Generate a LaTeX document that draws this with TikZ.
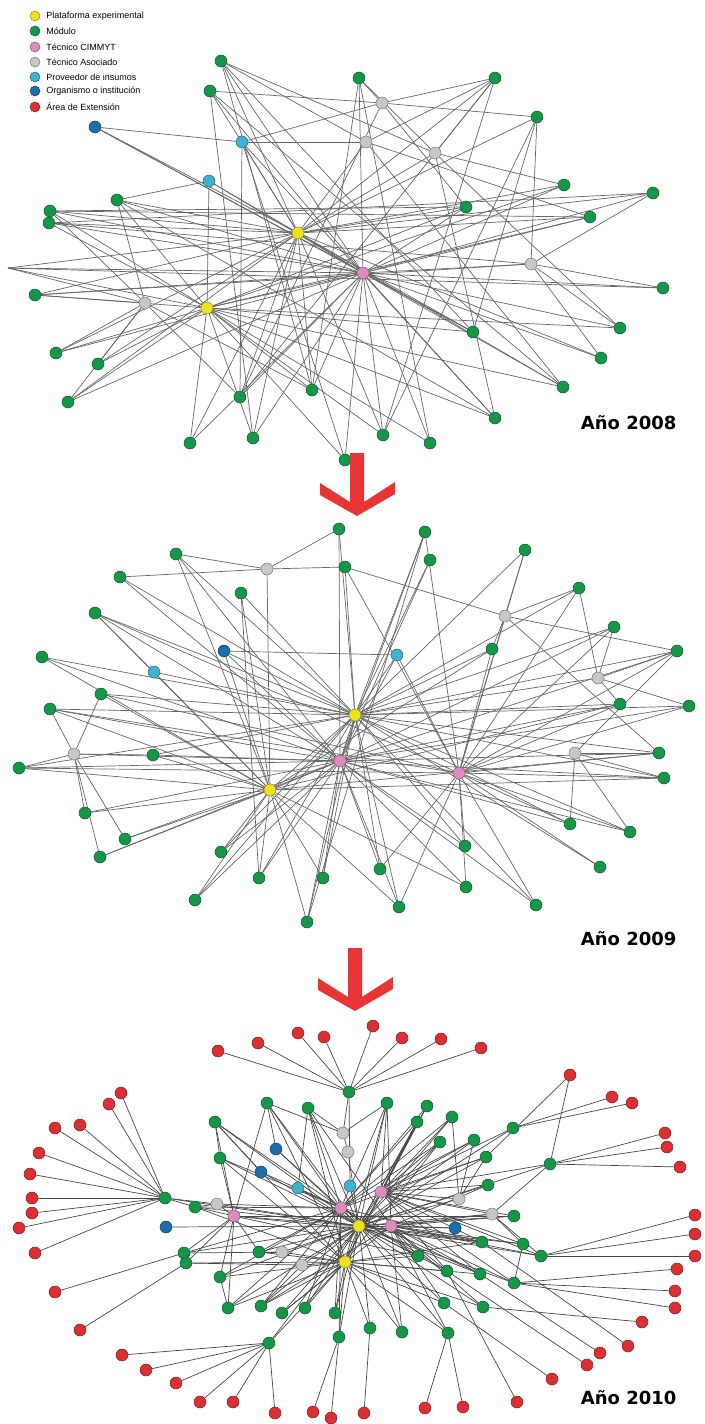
\documentclass[tikz,border=0pt]{standalone}
\usepackage{fontspec}
\setmainfont{Liberation Sans}
\newfontfamily\anyofont{DejaVu Sans}
\usepackage{tikz}
\usetikzlibrary{positioning, backgrounds, calc}
\definecolor{cplat}{RGB}{236,226,30}
\definecolor{cmod}{RGB}{22,150,72}
\definecolor{ccim}{RGB}{222,140,190}
\definecolor{casoc}{RGB}{196,200,198}
\definecolor{cprov}{RGB}{64,178,206}
\definecolor{corg}{RGB}{26,110,170}
\definecolor{cext}{RGB}{218,48,52}
\definecolor{cflecha}{RGB}{232,52,52}

% red chevron arrow, tip hanging from the given coordinate
\newcommand{\flechaabajo}[1]{%
	\fill[cflecha, shift={(#1)}] (-7,0) -- (7,0) -- (7,49) -- (38,29) -- (38,41) -- (0,63)
		-- (-37,42) -- (-37,30) -- (-7,49) -- cycle;}

\begin{document}
\begin{tikzpicture}[x=1pt, y=-1pt,
		nodo/.style={circle, inner sep=0pt, minimum size=12pt, draw=#1!60!black, line width=0.5pt, fill=#1},
		plataforma/.style={nodo=cplat},
		modulo/.style={nodo=cmod},
		cimmyt/.style={nodo=ccim},
		asociado/.style={nodo=casoc},
		proveedor/.style={nodo=cprov},
		organismo/.style={nodo=corg},
		extension/.style={nodo=cext},
		enlace/.style={draw=black!60, line width=0.7pt},
		enlaceb/.style={draw=black!72, line width=0.7pt},
		anio/.style={font=\anyofont\bfseries\fontsize{18}{18}\selectfont, anchor=east},
		leyenda/.style={font=\fontsize{9}{9}\selectfont, anchor=west, inner sep=0pt}
	]
	\useasboundingbox (0,0) rectangle (704,1424);

	% Legend
	\foreach \i/\s/\y/\t in {1/plataforma/16/Plataforma experimental, 2/modulo/31/Módulo,
		3/cimmyt/47/Técnico CIMMYT, 4/asociado/62/Técnico Asociado, 5/proveedor/77/Proveedor de insumos,
		6/organismo/91/Organismo o institución, 7/extension/107/Área de Extensión} {
		\node[\s, minimum size=10pt] (ley\i) at (35,\y) {};
		\node[leyenda, right=6pt of ley\i] (txt\i) {\t};
	}

	% ---------------- Year 2008 ----------------
	\foreach \n/\x/\y in {a1/221/61, a2/359/78, a3/495/78, a4/210/91, a5/537/117, a6/564/185, a7/653/193,
		a8/117/200, a9/466/207, a10/50/211, a11/49/223, a12/590/217, a13/663/288, a14/35/295, a15/473/332,
		a16/620/328, a17/56/353, a18/98/364, a19/601/358, a20/68/402, a21/240/397, a22/312/390, a23/563/387,
		a24/495/418, a25/190/443, a26/253/438, a27/383/435, a28/430/443, a29/345/460}
		\node[modulo] (\n) at (\x,\y) {};
	\foreach \n/\x/\y in {ag1/382/103, ag2/366/142, ag3/435/153, ag4/531/264, ag5/145/303}
		\node[asociado] (\n) at (\x,\y) {};
	\node[proveedor] (ac1) at (242,142) {};
	\node[proveedor] (ac2) at (209,181) {};
	\node[organismo] (ab1) at (95,127) {};
	\node[plataforma] (ay1) at (298,233) {};
	\node[plataforma] (ay2) at (207,308) {};
	\node[cimmyt] (ap1) at (363,273) {};
	\coordinate (aL) at (8,268);

	\begin{scope}[on background layer]
		\foreach \u/\v in {ay1/a1, ay1/a8, ay1/a10, ay1/a11, ay1/aL, ay1/a9, ay1/a12, ay1/a7, ay1/a6, ay1/a21,
			ay1/a22, ay1/a25, ay1/a26, ay1/a18, ay1/a17, ay1/ab1, ay1/ac1, ay1/ag2, ay1/a3, ay1/ag3, ay1/a15,
			ay1/a23, ay1/a19, ay1/a27, ay1/ap1, ay1/a5, ay1/a14, ay1/a20, ay1/a4,
			ap1/a2, ap1/a1, ap1/a4, ap1/a10, ap1/a11, ap1/aL, ap1/a14, ap1/a13, ap1/a16, ap1/a19, ap1/a23,
			ap1/a24, ap1/a27, ap1/a28, ap1/a29, ap1/a15, ap1/a21, ap1/a22, ap1/a26, ap1/ay2, ap1/a7, ap1/a12,
			ap1/a9, ap1/ab1, ap1/ac2, ap1/a8, ap1/a20, ap1/a17, ap1/a25, ap1/a6, ap1/ag4,
			ay2/a10, ay2/a11, ay2/aL, ay2/a14, ay2/a17, ay2/a18, ay2/a20, ay2/a25, ay2/a26, ay2/a22, ay2/a27,
			ay2/a9, ay2/a12, ay2/a6, ay2/ac2, ay2/a8, ay2/a28, ay2/a24, ay2/a15, ay2/a16, ay2/a23, ay2/a29,
			ag5/a14, ag5/a17, ag5/a20, ag5/a8, ag5/a10, ag5/a18, ag5/a21, ag5/a22, ag5/aL,
			ag4/a5, ag4/a7, ag4/a13, ag4/a16, ag4/a19, ag4/a14, ag4/a11,
			a10/a12, a11/a7, aL/a13, a10/a9,
			ag1/a4, ag1/a5, ag1/a3, ag1/ac1, ag1/a9, ag1/a21, ag1/a2,
			ag2/ac1, ag2/a3, ag2/a12, ag2/a23, ag2/a1,
			ag3/a6, ag3/a1, ag3/a2, ag3/a24, ag3/a16, ag3/a3,
			ab1/ac1, ac1/a21, ac1/a29, ac2/a8, ac2/ay1,
			a1/a22, a3/a27, a5/a15, a2/a28, a4/a26, a8/a24, a4/a23,
			a1/a15, a3/a21, a5/a27, a2/a22, ab1/a15, ac1/a24}
			\draw[enlace] (\u) -- (\v);
	\end{scope}

	\node[anio] (anio1) at (680,423) {Año 2008};

	% Arrow 2008 -> 2009
	\coordinate (f1) at (357,453);
	\flechaabajo{f1}

	% ---------------- Year 2009 ----------------
	\foreach \n/\x/\y in {b1/339/529, b2/425/532, b3/525/550, b4/176/554, b5/430/560, b6/345/567, b7/120/577,
		b8/241/593, b9/579/588, b10/95/613, b11/614/627, b12/492/649, b13/677/651, b14/42/657, b15/101/694,
		b16/50/709, b17/620/704, b18/689/706, b19/153/755, b20/659/753, b21/19/768, b22/664/778, b23/85/813,
		b24/570/824, b25/630/832, b26/125/839, b27/100/857, b28/221/852, b29/465/846, b30/380/869,
		b31/259/878, b32/323/878, b33/600/867, b34/466/887, b35/195/900, b36/399/907, b37/536/905, b38/307/922}
		\node[modulo] (\n) at (\x,\y) {};
	\foreach \n/\x/\y in {bg1/267/569, bg2/505/616, bg3/598/678, bg4/74/754, bg5/575/753}
		\node[asociado] (\n) at (\x,\y) {};
	\node[organismo] (bb1) at (224,651) {};
	\node[proveedor] (bc1) at (397,655) {};
	\node[proveedor] (bc2) at (154,672) {};
	\node[plataforma] (by1) at (355,715) {};
	\node[plataforma] (by2) at (270,790) {};
	\node[cimmyt] (bp1) at (340,761) {};
	\node[cimmyt] (bp2) at (459,773) {};

	\begin{scope}[on background layer]
		\foreach \u/\v in {by1/b1, by1/b2, by1/b5, by1/b4, by1/b7, by1/b8, by1/b10, by1/b14, by1/b15, by1/b16,
			by1/b19, by1/b21, by1/bb1, by1/bc2, by1/b11, by1/b13, by1/b17, by1/b18, by1/b20, by1/b22, by1/b12,
			by1/b9, by1/b3, by1/bp1, by1/by2, by1/b24, by1/b25, by1/b29, by1/b30, by1/b31, by1/b32, by1/b33,
			by1/b36, by1/b37, by1/b38, by1/b28, by1/b35, by1/bg3, by1/bc1, by1/b6,
			bp1/b1, bp1/b2, bp1/b5, bp1/b4, bp1/b7, bp1/b10, bp1/b14, bp1/b16, bp1/b21, bp1/b19, bp1/b18,
			bp1/b13, bp1/b17, bp1/b22, bp1/b20, bp1/b11, bp1/b24, bp1/b25, bp1/b26, bp1/b23, bp1/b27, bp1/b28,
			bp1/b29, bp1/b30, bp1/b31, bp1/b32, bp1/b34, bp1/b35, bp1/b36, bp1/b37, bp1/b38, bp1/bg4, bp1/by2,
			bp1/bc1, bp1/bb1,
			bp2/b2, bp2/b3, bp2/b9, bp2/b11, bp2/b12, bp2/b13, bp2/b17, bp2/b18, bp2/b20, bp2/b22, bp2/b24,
			bp2/b25, bp2/b33, bp2/b34, bp2/b36, bp2/b29, bp2/b37, bp2/b16, bp2/b15, bp2/b21, bp2/bc1, bp2/b10,
			bp2/bg2, bp2/b6, bp2/b30,
			by2/b4, by2/b8, by2/b14, by2/b16, by2/b19, by2/b21, by2/b23, by2/b26, by2/b27, by2/b28, by2/b31,
			by2/b32, by2/b35, by2/b36, by2/b38, by2/bc2, by2/bb1, by2/bg1, by2/b10, by2/b15, by2/b17, by2/b22,
			by2/b20, by2/b12, by2/b34,
			bg1/b1, bg1/b4, bg1/b7, bg1/b6,
			bg2/b6, bg2/b3, bg2/b9, bg2/b12, bg2/b20, bg2/b13,
			bg3/b11, bg3/b18, bg3/b17, bg3/b13, bg3/b9,
			bg4/b15, bg4/b16, bg4/b21, bg4/b23, bg4/b26, bg4/b27, bg4/b19,
			bg5/b24, bg5/b25, bg5/b22, bg5/b20, bg5/b13,
			bb1/bc1, b10/bc2, b2/b38, b8/b31}
			\draw[enlace] (\u) -- (\v);
	\end{scope}

	\node[anio] (anio2) at (680,939) {Año 2009};

	% Arrow 2009 -> 2010
	\coordinate (f2) at (355,948);
	\flechaabajo{f2}

	% ---------------- Year 2010 ----------------
	\foreach \n/\x/\y in {c1/349/1092, c2/387/1103, c3/427/1106, c4/267/1103, c5/308/1108, c6/215/1122,
		c7/417/1122, c8/452/1117, c9/513/1128, c10/440/1142, c11/474/1140, c12/486/1157, c13/550/1164,
		c14/220/1158, c15/488/1185, c16/165/1198, c17/195/1207, c18/514/1216, c19/259/1252, c20/184/1253,
		c21/186/1263, c22/482/1242, c23/523/1244, c24/541/1256, c25/418/1256, c26/220/1277, c27/447/1271,
		c28/480/1274, c29/514/1283, c30/228/1308, c31/261/1306, c32/282/1313, c33/305/1308, c34/335/1313,
		c35/444/1303, c36/483/1307, c37/339/1337, c38/370/1328, c39/402/1332, c40/448/1333, c41/269/1343}
		\node[modulo] (\n) at (\x,\y) {};
	\foreach \n/\x/\y in {r1/373/1026, r2/298/1033, r3/324/1037, r4/258/1043, r5/402/1038, r6/441/1039,
		r7/481/1048, r8/218/1051, r9/570/1075, r10/612/1097, r11/632/1103, r12/121/1093, r13/109/1104,
		r14/55/1128, r15/80/1125, r16/665/1133, r17/667/1147, r18/39/1153, r19/680/1167, r20/30/1174,
		r21/32/1198, r22/32/1213, r23/19/1228, r24/695/1215, r25/695/1234, r26/35/1253, r27/695/1256,
		r28/677/1269, r29/675/1291, r30/675/1308, r31/55/1292, r32/642/1322, r33/80/1330, r34/628/1346,
		r35/600/1353, r36/587/1365, r37/122/1355, r38/146/1370, r39/552/1379, r40/176/1383, r41/200/1402,
		r42/233/1402, r43/275/1413, r44/313/1412, r45/331/1418, r46/364/1413, r47/425/1408, r48/463/1407,
		r49/517/1402}
		\node[extension] (\n) at (\x,\y) {};
	\foreach \n/\x/\y in {cg1/343/1133, cg2/348/1152, cg3/217/1204, cg4/459/1199, cg5/492/1214,
		cg6/282/1252, cg7/302/1265}
		\node[asociado] (\n) at (\x,\y) {};
	\foreach \n/\x/\y in {cp1/381/1192, cp2/341/1208, cp3/234/1216, cp4/391/1226}
		\node[cimmyt] (\n) at (\x,\y) {};
	\node[proveedor] (cc1) at (298,1188) {};
	\node[proveedor] (cc2) at (350,1186) {};
	\foreach \n/\x/\y in {cb1/276/1149, cb2/261/1172, cb3/166/1227, cb4/455/1228}
		\node[organismo] (\n) at (\x,\y) {};
	\node[plataforma] (cy1) at (359,1226) {};
	\node[plataforma] (cy2) at (345,1262) {};

	\begin{scope}[on background layer]
		\foreach \u/\v in {c1/r1, c1/r2, c1/r3, c1/r4, c1/r5, c1/r6, c1/r7, c1/r8, c1/cg1,
			c16/r12, c16/r13, c16/r14, c16/r15, c16/r18, c16/r20, c16/r21, c16/r22, c16/r23, c16/r26,
			c16/cy1, c16/cg3, c16/c17,
			c20/r31, c21/r33, c20/cy1, c21/cy2,
			c41/r37, c41/r38, c41/r40, c41/r41, c41/r42, c41/r43, c41/cy2, c41/cy1,
			c37/r44, c37/r45, c38/r46, c40/r47, c40/r48, c27/r49, c35/r39,
			c13/r9, c13/r16, c13/r17, c13/r19, c13/cy1, c13/cp1, c9/r10, c9/r11, c12/r9,
			c24/r24, c24/r25, c24/r27, c24/cy1, c29/r28, c29/r29, c29/r30, c29/cy1,
			c36/r32, c22/r34, c28/r35, c27/r36,
			cy1/c2, cy1/c3, cy1/c4, cy1/c5, cy1/c6, cy1/c7, cy1/c8, cy1/c9, cy1/c10, cy1/c11, cy1/c12,
			cy1/c14, cy1/c15, cy1/c17, cy1/c18, cy1/c19, cy1/c22, cy1/c23, cy1/c25, cy1/c26, cy1/c27,
			cy1/c28, cy1/c30, cy1/c31, cy1/c32, cy1/c33, cy1/c34, cy1/c35, cy1/c36, cy1/c37, cy1/c38,
			cy1/c39, cy1/c40, cy1/cp1, cy1/cp2, cy1/cp3, cy1/cp4, cy1/cy2, cy1/cc1, cy1/cc2, cy1/cb1,
			cy1/cb2, cy1/cb3, cy1/cb4, cy1/cg2, cy1/cg3, cy1/cg4, cy1/cg5, cy1/cg6, cy1/cg7,
			cy2/c4, cy2/c5, cy2/c6, cy2/c14, cy2/c19, cy2/c26, cy2/c30, cy2/c31, cy2/c32, cy2/c33,
			cy2/c34, cy2/c37, cy2/c38, cy2/c39, cy2/c35, cy2/c40, cy2/c25, cy2/c10, cy2/c7, cy2/c3,
			cy2/c2, cy2/cg6, cy2/cg7, cy2/c22, cy2/c28, cy2/c36, cy2/c27, cy2/c17,
			cp1/c2, cp1/c3, cp1/c7, cp1/c8, cp1/c10, cp1/c11, cp1/c12, cp1/c9, cp1/c15, cp1/c18,
			cp1/c22, cp1/c23, cp1/c24, cp1/c27, cp1/c28, cp1/c29, cp1/cg4, cp1/cg5,
			cp2/c4, cp2/c5, cp2/c6, cp2/c14, cp2/c17, cp2/c19, cp2/c20, cp2/c26, cp2/c30, cp2/c31,
			cp2/cb1, cp2/cb2, cp2/cc1, cp2/cg3, cp2/c2, cp2/c3, cp2/c7, cp2/c8, cp2/c10, cp2/c11,
			cp2/c12, cp2/c22, cp2/c25, cp2/c27, cp2/c28, cp2/c33, cp2/c34, cp2/c37,
			cp3/c6, cp3/c14, cp3/c17, cp3/c19, cp3/c26, cp3/c30, cp3/c20, cp3/c21, cp3/cg3, cp3/c4, cp3/c22,
			cp3/c25, cp3/c18,
			cp4/c22, cp4/c23, cp4/c24, cp4/c25, cp4/c27, cp4/c28, cp4/c29, cp4/c35, cp4/c36, cp4/c39,
			cp4/c40, cp4/c18, cp4/c15, cp4/cb4, cp4/cg5, cp4/c2, cp4/c5, cp4/c31, cp4/c32,
			cg1/c4, cg1/c5, cg1/c2, cg1/cg2, cg6/c19, cg6/c20, cg7/c21, cg7/c31,
			cg4/c11, cg4/c12, cg4/c8, cg5/c13, cg5/c23, cg5/c24, cb1/c4, cb2/c6, cc1/c5, cc2/c1,
			c6/c14, c26/c30, c23/c29, cg3/c17}
			\draw[enlaceb] (\u) -- (\v);
	\end{scope}

	\node[anio] (anio3) at (680,1398) {Año 2010};
\end{tikzpicture}
\end{document}
